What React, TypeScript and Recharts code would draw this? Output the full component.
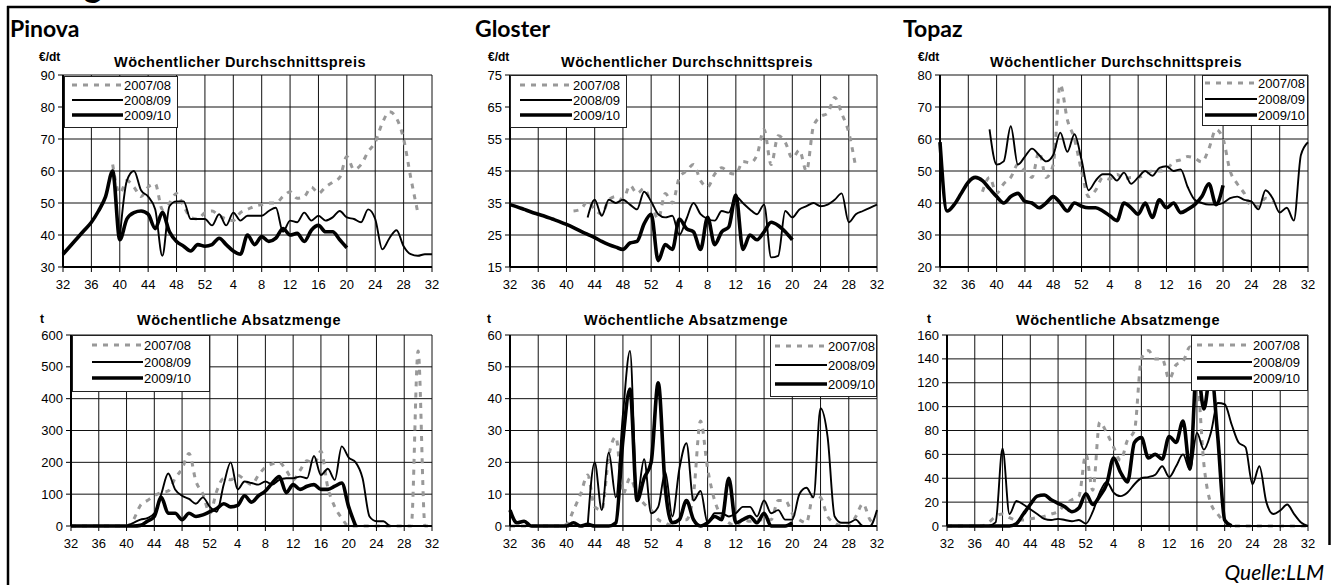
import React from "react";
import { LineChart, Line, XAxis, YAxis, CartesianGrid } from "recharts";

const N = null;

// season runs from calendar week 32 to week 32 of the following year
const weekLabels = [
  32, 33, 34, 35, 36, 37, 38, 39, 40, 41, 42, 43, 44, 45, 46, 47, 48, 49, 50, 51, 52,
  1, 2, 3, 4, 5, 6, 7, 8, 9, 10, 11, 12, 13, 14, 15, 16, 17, 18, 19, 20, 21, 22, 23, 24, 25, 26, 27, 28, 29, 30, 31, 32,
];
const xTicks = [0, 4, 8, 12, 16, 20, 24, 28, 32, 36, 40, 44, 48, 52];
const seasons = ["2007/08", "2008/09", "2009/10"];

// --- Pinova, price €/dt
const pinovaPrice0708 = [
  N, N, N, N, N, N, N, 62, 53, 57,
  55, 52, 55, 56, 48, 50, 53, 49, 45.5, 45,
  47, 47.5, 46, 45, 44.5, 47, 48, 49, 49.5, 50,
  50, 52, 53.5, 51.5, 52, 55, 53, 55, 56.5, 58,
  64.5, 60.5, 62, 66, 69, 75, 78.5, 76.5, 70, 58,
  47, N, N,
];
const pinovaPrice0809 = [
  N, N, N, N, N, N, N, N, 39, 57,
  60, 54, 52, 48, 33.5, 49, 50.5, 50.5, 45, 45,
  45, 43, 46.5, 43, 47, 44.5, 46, 46, 46, 47.5,
  48.5, 41, 44.5, 44, 47, 44.5, 46, 44.5, 45.5, 47.5,
  45.5, 45, 44, 48, 45, 35.5, 39, 41.5, 36.5, 34,
  33.5, 34, 34,
];
const pinovaPrice0910 = [
  34, 36.5, 39, 41.5, 44, 47.5, 52, 60, 38.5, 45,
  47, 47.5, 46.5, 42, 47, 41, 38, 36.5, 35, 37,
  36.5, 37, 39, 37, 35, 34, 40, 37, 39.5, 38,
  39, 42, 40, 40.5, 38, 41.5, 43, 41, 41, 38.5,
  36, N, N, N, N, N, N, N, N, N,
  N, N, N,
];

// --- Gloster, price €/dt
const glosterPrice0708 = [
  N, N, N, N, N, N, N, N, N, 32.5,
  33, 35.5, 33, 31.5, 36, 37, 36, 40.5, 38, 39.5,
  35, 30, 38, 35, 43, 45, 47, 42, 40, 44,
  46, 44.5, 44, 48, 47.5, 50, 58, 47, 56, 54,
  49, 51.5, 45, 59, 62, 63, 68, 63, 57, 46,
  N, N, N,
];
const glosterPrice0809 = [
  N, N, N, N, N, N, N, N, N, N,
  N, 30.5, 36, 31, 36, 35, 36, 34.5, 33, 38.5,
  35.5, 31.5, 30.5, 31, 25, 30, 35, 31.5, 30, 29.5,
  32.5, 32, 37, 35, 33, 31.5, 34.5, 18, 18.5, 32.5,
  30.5, 33, 34, 35, 34, 34.5, 36, 38, 29, 31.5,
  32.5, 33.5, 34.5,
];
const glosterPrice0910 = [
  34.5, 33.8, 33, 32.2, 31.5, 30.8, 30, 29.2, 28.3, 27.3,
  26.2, 25.2, 24.2, 23, 22, 21.2, 20.5, 22.5, 23, 28.5,
  31.5, 17, 22, 20.5, 30, 27, 26, 20.5, 30.5, 22,
  26, 27.5, 37.5, 20.5, 25, 23.5, 26, 29, 28, 26,
  23.5, N, N, N, N, N, N, N, N, N,
  N, N, N,
];

// --- Topaz, price €/dt
const topazPrice0708 = [
  N, N, N, N, N, N, 43.5, 48, 43, 46,
  48, 52, 50, 48, 56, 48, 52, 77, 66, 60,
  50, 42, 44, 48, 47.5, 49, 47.5, 48, 48, 49,
  50, 50, 50.5, 52.8, 53.5, 54.5, 54, 52.8, 57, 63,
  60, 50, 46, 43, 39, 39, 41.5, 40, N, N,
  N, N, N,
];
const topazPrice0809 = [
  N, N, N, N, N, N, N, 63, 52, 53,
  64, 52, 54.5, 57, 55, 53, 55, 62, 56, 61.5,
  53.5, 44, 47, 49, 49, 47, 49.5, 46, 48, 50,
  48.5, 51, 51.5, 50, 50.5, 45, 41, 40, 39.5, 39.5,
  40, 41.5, 42, 41, 40.5, 38, 44, 41.5, 37, 38.5,
  34.5, 55, 59,
];
const topazPrice0910 = [
  59, 37.5, 39.5, 43, 46.5, 48, 47, 44.5, 42, 40,
  42, 43, 40.5, 40, 38.5, 40, 42, 40, 37.5, 40,
  39, 38.5, 38.5, 37.5, 36, 34.5, 40, 38.5, 36.5, 40,
  35.5, 41, 38.5, 40, 37, 38, 39.5, 42, 46, 39.5,
  45.5, N, N, N, N, N, N, N, N, N,
  N, N, N,
];

// --- Pinova, sales t
const pinovaQty0708 = [
  0, 0, 0, 0, 0, 0, 0, 0, 0, 20,
  65, 80, 95, 105, 110, 150, 180, 228, 140, 100,
  40, 110, 150, 145, 160, 145, 130, 160, 185, 195,
  200, 175, 145, 175, 205, 195, 235, 120, 60, 25,
  0, 0, 0, 0, 0, 0, 0, 0, 0, 0,
  550, 0, 0,
];
const pinovaQty0809 = [
  N, N, N, N, N, N, N, N, 0, 10,
  20, 25, 40, 100, 165, 115, 95, 85, 70, 90,
  60, 45, 130, 200, 115, 140, 135, 130, 140, 130,
  145, 150, 150, 155, 150, 220, 160, 180, 145, 250,
  215, 200, 150, 30, 15, 15, 0, 0, 0, 0,
  0, 0, 0,
];
const pinovaQty0910 = [
  0, 0, 0, 0, 0, 0, 0, 0, 0, 0,
  2, 15, 30, 90, 40, 40, 20, 40, 30, 35,
  45, 55, 70, 60, 65, 95, 75, 95, 110, 135,
  155, 105, 130, 115, 125, 130, 115, 115, 125, 135,
  60, 0, N, N, N, N, N, N, N, N,
  N, N, N,
];

// --- Gloster, sales t
const glosterQty0708 = [
  0, 0, 0, 0, 0, 0, 0, 0, 0.5, 5,
  10, 16, 6, 5, 22, 28, 10, 15, 10, 7,
  5, 2, 1, 0, 2, 2, 10, 33, 18, 8,
  3, 1, 0, 2, 1.5, 2, 2, 2, 8, 8,
  4, 2, 1, 10, 9, 3, 1, 0, 0, 3,
  7, 2, 0,
];
const glosterQty0809 = [
  N, N, N, N, N, N, N, N, N, N,
  N, 0, 20, 5, 23, 9, 35, 55, 9, 21,
  4, 6, 17, 3, 18, 26, 8, 11, 1, 4,
  4, 3, 4, 6, 6, 3, 8, 4, 5, 2,
  2, 10, 12, 9, 37, 28, 3, 1, 1, 2,
  0, 0, 5,
];
const glosterQty0910 = [
  5, 1, 1.5, 0, 0, 0, 0, 0, 0, 1,
  0, 0.5, 0, 0, 0, 1, 27, 43, 8, 15,
  20, 45, 12, 1, 2, 8, 2, 0, 1, 3,
  2, 15, 1, 2, 3, 1, 4, 0, 0, 0,
  1, N, N, N, N, N, N, N, N, N,
  N, N, N,
];

// --- Topaz, sales t
const topazQty0708 = [
  0, 0, 0, 0, 0, 0, 3, 8, 10, 7,
  5, 5, 6, 7, 8, 10, 12, 18, 22, 25,
  60, 30, 87, 78, 66, 55, 72, 80, 140, 147,
  140, 140, 123, 135, 138, 150, 130, 52, 19, 10,
  3, 0, 0, 0, 0, 0, 0, 0, 0, 0,
  0, 0, 0,
];
const topazQty0809 = [
  N, N, N, N, N, N, 0, 3, 65, 10,
  21, 18, 14, 10, 6, 5, 6, 5, 4, 5,
  2, 12, 28, 37, 28, 25, 28, 35, 40, 41,
  43, 50, 41, 50, 60, 47, 78, 64, 78, 103,
  102, 85, 70, 66, 35, 50, 20, 10, 13, 18,
  10, 3, 0,
];
const topazQty0910 = [
  0, 0, 0, 0, 0, 0, 0, 0, 0, 0,
  2, 10, 18, 25, 26, 22, 19, 16, 12, 15,
  27, 18, 25, 35, 57, 45, 37, 70, 74, 57,
  60, 56, 75, 70, 88, 48, 135, 98, 130, 75,
  5, 0, N, N, N, N, N, N, N, N,
  N, N, N,
];

const SANS = "'Liberation Sans', Arial, sans-serif";
const HEAD = "Lato, 'Open Sans', sans-serif";

const seriesStyle = [
  { key: "s0708", stroke: "#999999", width: 3, dash: "5 6" },
  { key: "s0809", stroke: "#000", width: 1.9, dash: undefined },
  { key: "s0910", stroke: "#000", width: 3.6, dash: undefined },
];

type Series = (number | null)[];

type LegendSpec = {
  left: number;
  top: number;
  width: number;
  height: number;
  rows: number[];
  sampleFrom: number;
  sampleTo: number;
  labelAt: number;
};

type PanelSpec = {
  left: number;
  top: number;
  width: number;
  height: number;
  yDomain: [number, number];
  yTicks: number[];
  s0708: Series;
  s0809: Series;
  s0910: Series;
  legend: LegendSpec;
};

const panels: PanelSpec[] = [
  {
    left: 63, top: 75, width: 369, height: 192,
    yDomain: [30, 90], yTicks: [30, 40, 50, 60, 70, 80, 90],
    s0708: pinovaPrice0708, s0809: pinovaPrice0809, s0910: pinovaPrice0910,
    legend: { left: 64, top: 76, width: 114, height: 52, rows: [9, 24, 39], sampleFrom: 8, sampleTo: 59, labelAt: 60 },
  },
  {
    left: 510, top: 75, width: 367, height: 192,
    yDomain: [15, 75], yTicks: [15, 25, 35, 45, 55, 65, 75],
    s0708: glosterPrice0708, s0809: glosterPrice0809, s0910: glosterPrice0910,
    legend: { left: 510, top: 75, width: 117, height: 53, rows: [10, 25, 40], sampleFrom: 10, sampleTo: 62, labelAt: 63 },
  },
  {
    left: 940, top: 75, width: 368, height: 192,
    yDomain: [20, 80], yTicks: [20, 30, 40, 50, 60, 70, 80],
    s0708: topazPrice0708, s0809: topazPrice0809, s0910: topazPrice0910,
    legend: { left: 1202, top: 75, width: 106, height: 51, rows: [8, 24, 40], sampleFrom: 3, sampleTo: 55, labelAt: 56 },
  },
  {
    left: 71, top: 335, width: 361, height: 191,
    yDomain: [0, 600], yTicks: [0, 100, 200, 300, 400, 500, 600],
    s0708: pinovaQty0708, s0809: pinovaQty0809, s0910: pinovaQty0910,
    legend: { left: 72, top: 335, width: 138, height: 57, rows: [10, 27, 43], sampleFrom: 20, sampleTo: 71, labelAt: 72 },
  },
  {
    left: 510, top: 335, width: 367, height: 191,
    yDomain: [0, 60], yTicks: [0, 10, 20, 30, 40, 50, 60],
    s0708: glosterQty0708, s0809: glosterQty0809, s0910: glosterQty0910,
    legend: { left: 770, top: 335, width: 107, height: 62, rows: [11, 30, 49], sampleFrom: 5, sampleTo: 57, labelAt: 58 },
  },
  {
    left: 947, top: 335, width: 361, height: 191,
    yDomain: [0, 160], yTicks: [0, 20, 40, 60, 80, 100, 120, 140, 160],
    s0708: topazQty0708, s0809: topazQty0809, s0910: topazQty0910,
    legend: { left: 1191, top: 335, width: 117, height: 56, rows: [10, 27, 43], sampleFrom: 6, sampleTo: 61, labelAt: 62 },
  },
];

const tickStyle = { fill: "#000", fontSize: 13, fontFamily: SANS };

function LegendBox({ l }: { l: LegendSpec }) {
  return (
    <svg
      width={l.width}
      height={l.height}
      style={{ position: "absolute", left: l.left, top: l.top }}
    >
      <rect x={0.5} y={0.5} width={l.width - 1} height={l.height - 1} fill="#fff" stroke="#222" />
      {seriesStyle.map((s, k) => (
        <g key={s.key}>
          <line
            x1={l.sampleFrom}
            x2={l.sampleTo}
            y1={l.rows[k]}
            y2={l.rows[k]}
            stroke={s.stroke}
            strokeWidth={s.width}
            strokeDasharray={s.dash}
          />
          <text x={l.labelAt} y={l.rows[k] + 4.5} fontSize={13} fontFamily={SANS} fill="#000">
            {seasons[k]}
          </text>
        </g>
      ))}
    </svg>
  );
}

function SeasonChart({ p }: { p: PanelSpec }) {
  const rows = weekLabels.map((w, i) => ({
    i,
    week: w,
    s0708: p.s0708[i],
    s0809: p.s0809[i],
    s0910: p.s0910[i],
  }));

  return (
    <>
      <div style={{ position: "absolute", left: p.left - 50, top: p.top - 10 }}>
        <LineChart
          width={p.width + 60}
          height={p.height + 40}
          data={rows}
          margin={{ top: 10, right: 10, bottom: 0, left: 0 }}
        >
          <CartesianGrid stroke="#111" strokeWidth={1} />
          <XAxis
            dataKey="i"
            type="number"
            domain={[0, 52]}
            ticks={xTicks}
            interval={0}
            tickFormatter={(v: number) => String(weekLabels[v])}
            height={30}
            tickSize={5}
            tickMargin={8}
            tick={tickStyle}
            axisLine={{ stroke: "#000", strokeWidth: 2 }}
            tickLine={{ stroke: "#000" }}
          />
          <YAxis
            type="number"
            domain={p.yDomain}
            ticks={p.yTicks}
            interval={0}
            width={50}
            tickSize={5}
            tickMargin={3}
            tick={tickStyle}
            axisLine={{ stroke: "#000", strokeWidth: 2 }}
            tickLine={{ stroke: "#000" }}
          />
          {seriesStyle.map((s) => (
            <Line
              key={s.key}
              dataKey={s.key}
              type="monotone"
              stroke={s.stroke}
              strokeWidth={s.width}
              strokeDasharray={s.dash}
              dot={false}
              activeDot={false}
              isAnimationActive={false}
            />
          ))}
        </LineChart>
      </div>
      <LegendBox l={p.legend} />
    </>
  );
}

export default function App() {
  return (
    <div
      style={{
        position: "absolute",
        left: 0,
        top: 0,
        width: 1332,
        height: 585,
        overflow: "hidden",
        background: "#fff",
      }}
    >
      <svg width={1332} height={585} style={{ position: "absolute", left: 0, top: 0 }}>
        {/* frame */}
        <line x1={7} x2={1331} y1={7} y2={7} stroke="#000" strokeWidth={2.5} />
        <line x1={8} x2={8} y1={6} y2={585} stroke="#000" strokeWidth={2.5} />
        <line x1={1329.5} x2={1329.5} y1={6} y2={545} stroke="#000" strokeWidth={2.5} />
        {/* descender of the page heading that sits above the cropped frame */}
        <text x={84} y={-3} fontSize={34} fontWeight={700} fontFamily={HEAD}>g</text>

        <text x={10} y={37} fontSize={23} fontWeight={700} fontFamily={HEAD}>Pinova</text>
        <text x={475} y={37} fontSize={23} fontWeight={700} fontFamily={HEAD}>Gloster</text>
        <text x={903} y={37} fontSize={23} fontWeight={700} fontFamily={HEAD}>Topaz</text>

        <text x={39} y={61} fontSize={12} fontWeight={700} fontFamily={SANS}>€/dt</text>
        <text x={488} y={61} fontSize={12} fontWeight={700} fontFamily={SANS}>€/dt</text>
        <text x={918} y={61} fontSize={12} fontWeight={700} fontFamily={SANS}>€/dt</text>
        <text x={240} y={67} fontSize={14.5} fontWeight={700} fontFamily={SANS} textAnchor="middle" letterSpacing={0.5}>
          Wöchentlicher Durchschnittspreis
        </text>
        <text x={687} y={67} fontSize={14.5} fontWeight={700} fontFamily={SANS} textAnchor="middle" letterSpacing={0.5}>
          Wöchentlicher Durchschnittspreis
        </text>
        <text x={1116} y={67} fontSize={14.5} fontWeight={700} fontFamily={SANS} textAnchor="middle" letterSpacing={0.5}>
          Wöchentlicher Durchschnittspreis
        </text>

        <text x={40} y={323} fontSize={12} fontWeight={700} fontFamily={SANS}>t</text>
        <text x={487} y={323} fontSize={12} fontWeight={700} fontFamily={SANS}>t</text>
        <text x={927} y={323} fontSize={12} fontWeight={700} fontFamily={SANS}>t</text>
        <text x={239} y={325} fontSize={14.5} fontWeight={700} fontFamily={SANS} textAnchor="middle" letterSpacing={0.5}>
          Wöchentliche Absatzmenge
        </text>
        <text x={686} y={325} fontSize={14.5} fontWeight={700} fontFamily={SANS} textAnchor="middle" letterSpacing={0.5}>
          Wöchentliche Absatzmenge
        </text>
        <text x={1118} y={325} fontSize={14.5} fontWeight={700} fontFamily={SANS} textAnchor="middle" letterSpacing={0.5}>
          Wöchentliche Absatzmenge
        </text>

        <text x={1324} y={580} fontSize={21} fontStyle="italic" fontFamily={HEAD} textAnchor="end">Quelle:LLM</text>
      </svg>

      {panels.map((p, k) => (
        <SeasonChart key={k} p={p} />
      ))}
    </div>
  );
}
